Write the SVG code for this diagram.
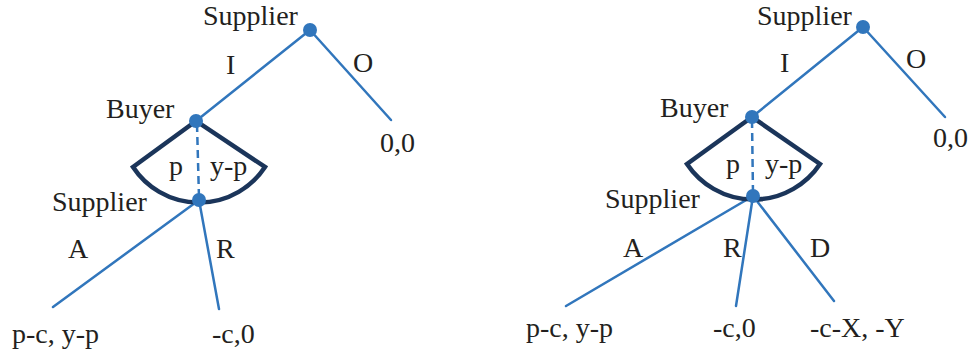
<svg xmlns="http://www.w3.org/2000/svg" width="968" height="353" viewBox="0 0 968 353">
<style>
.e{stroke:#3176BC;stroke-width:2.5;fill:none;stroke-linecap:round}
.d{stroke:#3176BC;stroke-width:2.5;fill:none;stroke-dasharray:8,5}
.f{stroke:#1B355A;stroke-width:4.5;fill:none;stroke-linejoin:miter}
.n{fill:#3176BC}
text{font-family:"Liberation Serif","Times New Roman",serif;font-size:28px;fill:#231F20}
</style>
<rect width="968" height="353" fill="#fff"/>
<g id="connectors">
<line class="e" x1="310" y1="30" x2="196" y2="121"/>
<line class="e" x1="310" y1="30" x2="391" y2="120"/>
<line class="d" x1="197" y1="124" x2="199" y2="198"/>
<line class="e" x1="199" y1="200" x2="53" y2="307"/>
<line class="e" x1="199" y1="200" x2="219" y2="309"/>
<path class="f" d="M196,121 L133,167 A79,79 0 0 0 265,167 Z"/>
<line class="e" x1="863" y1="27" x2="752" y2="117"/>
<line class="e" x1="863" y1="27" x2="945" y2="117"/>
<line class="d" x1="752" y1="120" x2="753" y2="194"/>
<line class="e" x1="753" y1="196" x2="566" y2="306"/>
<line class="e" x1="753" y1="196" x2="736" y2="306"/>
<line class="e" x1="753" y1="196" x2="834" y2="301"/>
<path class="f" d="M752,117 L687,164 A80,80 0 0 0 820,164 Z"/>
</g>
<g id="left-supplier-top"><circle class="n" cx="310" cy="30" r="7"/><text x="203" y="25">Supplier</text></g>
<g id="left-buyer"><circle class="n" cx="196" cy="121" r="7"/><text x="106" y="118">Buyer</text></g>
<g id="left-supplier-low"><circle class="n" cx="199" cy="200" r="7"/><text x="52" y="211">Supplier</text></g>
<g id="left-labels">
<text x="226" y="74">I</text><text x="353" y="72">O</text>
<text x="380" y="152">0,0</text>
<text x="169" y="175">p</text><text x="210" y="175">y-p</text>
<text x="68" y="258">A</text><text x="216" y="258">R</text>
<text x="12" y="343">p-c, y-p</text><text x="212" y="343">-c,0</text>
</g>
<g id="right-supplier-top"><circle class="n" cx="863" cy="27" r="7"/><text x="757" y="25">Supplier</text></g>
<g id="right-buyer"><circle class="n" cx="752" cy="117" r="7"/><text x="660" y="117">Buyer</text></g>
<g id="right-supplier-low"><circle class="n" cx="753" cy="196" r="7"/><text x="605" y="208">Supplier</text></g>
<g id="right-labels">
<text x="780" y="72">I</text><text x="906" y="68">O</text>
<text x="933" y="147">0,0</text>
<text x="726" y="173">p</text><text x="765" y="173">y-p</text>
<text x="623" y="257">A</text><text x="723" y="257">R</text><text x="810" y="257">D</text>
<text x="526" y="337">p-c, y-p</text><text x="713" y="337">-c,0</text><text x="810" y="337">-c-X, -Y</text>
</g>
</svg>
